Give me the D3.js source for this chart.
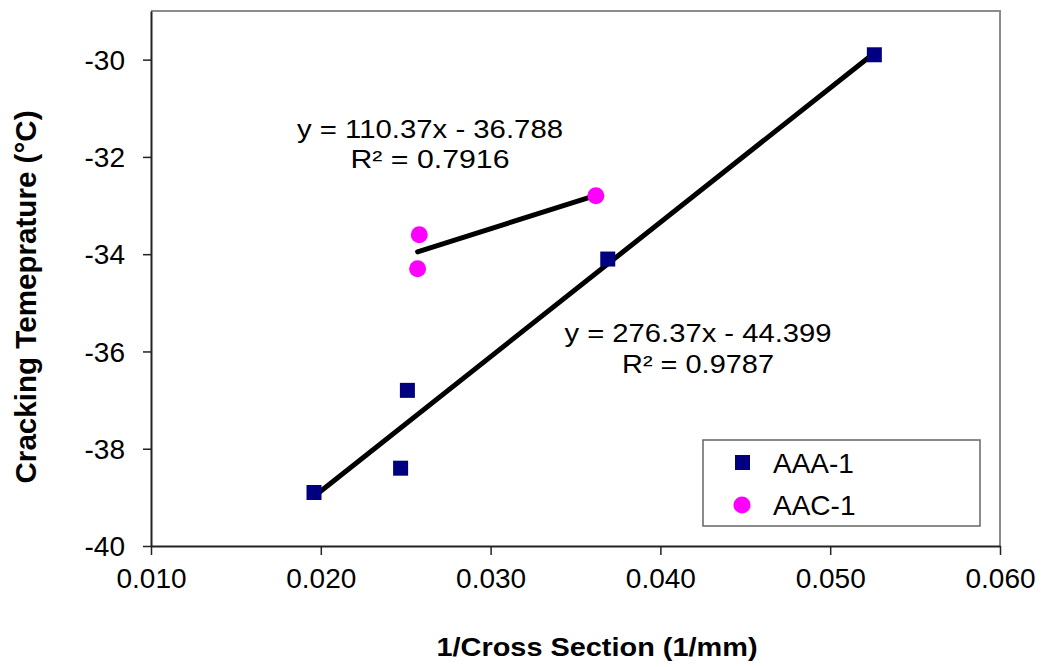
<!DOCTYPE html>
<html>
<head>
<meta charset="utf-8">
<script src="https://cdn.jsdelivr.net/npm/d3@7"></script>
<style>
  body { margin: 0; background: #fff; }
  text { font-family: "Liberation Sans", Arial, sans-serif; }
</style>
</head>
<body>
<div id="chart"></div>
<script>
// data
var seriesNames = ["AAA-1", "AAC-1"];
var aaaX = [0.0196, 0.0247, 0.0251, 0.0369, 0.0526];
var aaaY = [-38.9, -38.4, -36.8, -34.1, -29.9];
var aacX = [0.0257, 0.0258, 0.0362];
var aacY = [-34.3, -33.6, -32.8];
var slopes = [276.37, 110.37];
var intercepts = [-44.399, -36.788];
var eqLines = [
  ["y = 276.37x - 44.399", "R\u00b2 = 0.9787"],
  ["y = 110.37x - 36.788", "R\u00b2 = 0.7916"]
];
var xTicks = [0.010, 0.020, 0.030, 0.040, 0.050, 0.060];
var yTicks = [-40, -38, -36, -34, -32, -30];

var w = 1041, h = 667;
var pLeft = 151, pRight = 1000, pTop = 11, pBottom = 546;

var svg = d3.select("#chart").append("svg")
    .attr("width", w).attr("height", h);

var x = d3.scaleLinear().domain([0.010, 0.060]).range([pLeft, pRight]);
var y = d3.scaleLinear().domain([-40, -29]).range([pBottom, pTop]);

// frame: grey top/right, dark axes left/bottom
svg.append("path")
    .attr("d", "M" + pLeft + "," + pTop + "H" + pRight + "V" + pBottom)
    .attr("fill", "none").attr("stroke", "#8c8c8c").attr("stroke-width", 2);

var xAxis = svg.append("g")
    .attr("transform", "translate(0," + pBottom + ")")
    .call(d3.axisBottom(x).tickValues(xTicks).tickFormat(d3.format(".3f"))
        .tickSizeInner(9).tickSizeOuter(0).tickPadding(13));
var yAxis = svg.append("g")
    .attr("transform", "translate(" + pLeft + ",0)")
    .call(d3.axisLeft(y).tickValues(yTicks).tickFormat(function (d) { return d; })
        .tickSizeInner(8).tickSizeOuter(0).tickPadding(18));

[xAxis, yAxis].forEach(function (a) {
    a.attr("font-size", 28).attr("font-family", "'Liberation Sans', Arial, sans-serif");
    a.select(".domain").attr("stroke", "#222").attr("stroke-width", 2);
    a.selectAll(".tick line").attr("stroke", "#222").attr("stroke-width", 1.5);
    a.selectAll("text").attr("fill", "#000");
});
yAxis.selectAll("text").attr("dy", "0.35em");

// trendlines
var groupsX = [aaaX, aacX];
groupsX.forEach(function (xs, i) {
    var x0 = d3.min(xs), x1 = d3.max(xs);
    svg.append("line")
        .attr("x1", x(x0)).attr("y1", y(slopes[i] * x0 + intercepts[i]))
        .attr("x2", x(x1)).attr("y2", y(slopes[i] * x1 + intercepts[i]))
        .attr("stroke", "#000").attr("stroke-width", 5)
        .attr("stroke-linecap", "round");
});

// markers
svg.selectAll(".sq").data(d3.range(aaaX.length)).enter().append("rect")
    .attr("x", function (i) { return x(aaaX[i]) - 7.5; })
    .attr("y", function (i) { return y(aaaY[i]) - 7.5; })
    .attr("width", 15).attr("height", 15)
    .attr("fill", "#000080");
svg.selectAll(".ci").data(d3.range(aacX.length)).enter().append("circle")
    .attr("cx", function (i) { return x(aacX[i]); })
    .attr("cy", function (i) { return y(aacY[i]); })
    .attr("r", 8.5)
    .attr("fill", "#ff00ff");

// trendline labels
var eqPos = [
  { cx: 698, base: [342, 373], len: [267, 152] },
  { cx: 430, base: [138, 168], len: [266, 159] }
];
eqLines.forEach(function (lines, i) {
    lines.forEach(function (t, j) {
        svg.append("text")
            .attr("x", eqPos[i].cx).attr("y", eqPos[i].base[j])
            .attr("text-anchor", "middle")
            .attr("font-size", 26)
            .attr("textLength", eqPos[i].len[j])
            .attr("lengthAdjust", "spacingAndGlyphs")
            .text(t);
    });
});

// axis titles
svg.append("text")
    .attr("x", 597).attr("y", 656)
    .attr("text-anchor", "middle")
    .attr("font-size", 25).attr("font-weight", "bold")
    .attr("textLength", 321).attr("lengthAdjust", "spacingAndGlyphs")
    .text("1/Cross Section (1/mm)");
svg.append("text")
    .attr("transform", "translate(36,297) rotate(-90)")
    .attr("text-anchor", "middle")
    .attr("font-size", 29).attr("font-weight", "bold")
    .attr("textLength", 373).attr("lengthAdjust", "spacingAndGlyphs")
    .text("Cracking Temeprature (\u00b0C)");

// legend
var lg = svg.append("g");
lg.append("rect")
    .attr("x", 703).attr("y", 440).attr("width", 277).attr("height", 86)
    .attr("fill", "#fff").attr("stroke", "#666").attr("stroke-width", 1.5);
lg.append("rect")
    .attr("x", 735).attr("y", 455).attr("width", 15).attr("height", 15)
    .attr("fill", "#000080");
lg.append("circle")
    .attr("cx", 742).attr("cy", 505).attr("r", 8.5)
    .attr("fill", "#ff00ff");
seriesNames.forEach(function (n, i) {
    lg.append("text")
        .attr("x", 773).attr("y", [473, 515][i])
        .attr("font-size", 28)
        .text(n);
});
</script>
</body>
</html>
